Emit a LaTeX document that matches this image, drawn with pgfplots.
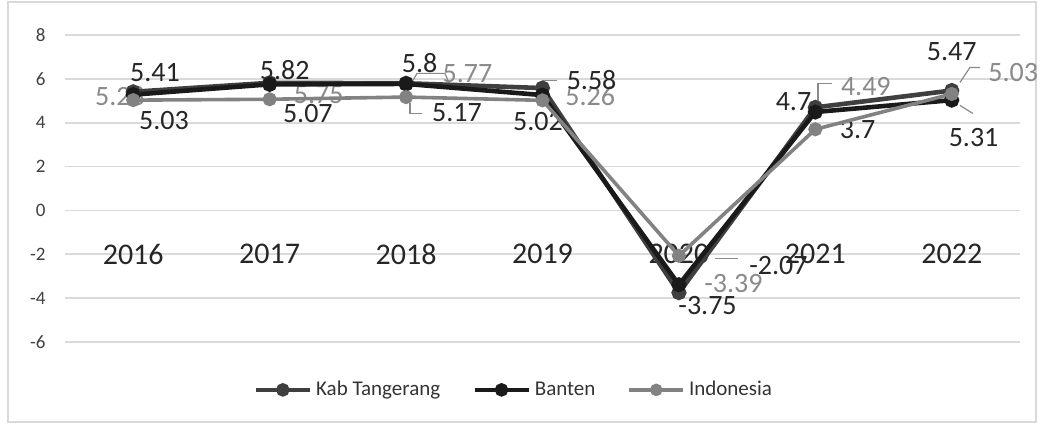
\documentclass[border=0pt]{standalone}
\usepackage{fontspec}
\setmainfont{Carlito}
\usepackage{pgfplots}
\pgfplotsset{compat=1.18}
\definecolor{kab}{HTML}{3F3F3F}
\definecolor{ban}{HTML}{1A1A1A}
\definecolor{ind}{HTML}{828282}
\definecolor{gridc}{HTML}{DADADA}
\definecolor{lblk}{HTML}{262626}
\definecolor{lgry}{HTML}{8A8A8A}
\begin{document}
\begin{tikzpicture}[x=1pt,y=1pt]
\path[use as bounding box] (-32.5,-42) rectangle (489,171);
\draw[gray!30, line width=0.8pt] (-28.5,-40) rectangle (485.5,170);
\begin{axis}[
  at={(0,0)}, anchor=south west,
  scale only axis, width=477.5pt, height=153.5pt,
  xmin=-0.5, xmax=6.5, ymin=-6, ymax=8,
  ytick={-6,-4,...,8},
  xtick={0,...,6},
  xticklabels={2016,2017,2018,2019,2020,2021,2022},
  axis line style={draw=none},
  major tick length=0pt,
  ymajorgrids, grid style={gridc, line width=0.9pt},
  /pgf/number format/assume math mode=true,
  yticklabel style={font=\fontsize{9.5}{11}\selectfont, text=black!75, anchor=east, inner sep=0pt, xshift=-9.5pt},
  xticklabel style={font=\fontsize{15}{18}\selectfont, text=lblk, anchor=center, inner sep=0pt, yshift=43.9pt},
  legend style={at={(0.471,-0.156)}, anchor=center, draw=none, fill=none,
     font=\fontsize{10.5}{12}\selectfont, text=black!80,
     /tikz/every even column/.append style={column sep=14pt}},
  legend columns=3,
  legend image code/.code={\draw[mark repeat=2,mark phase=2,#1,mark size=2.2pt] plot coordinates {(0pt,0pt)(13.5pt,0pt)(27pt,0pt)};},
  clip=false,
]
% data labels
\begin{scope}[every node/.style={font=\fontsize{14}{16}\selectfont, inner sep=0pt}]
\node[text=lgry] at (axis cs:-0.097,5.20) {5.28};
\node[text=lgry] at (axis cs:1.36,5.29) {5.75};
\node[text=lgry] at (axis cs:2.45,6.25) {5.77};
\node[text=lgry] at (axis cs:3.35,5.20) {5.26};
\node[text=lgry] at (axis cs:4.40,-3.33) {-3.39};
\node[text=lgry] at (axis cs:5.37,5.65) {4.49};
\node[text=lgry] at (axis cs:6.45,6.29) {5.03};
\node[text=lblk] at (axis cs:0.16,6.29) {5.41};
\node[text=lblk] at (axis cs:1.11,6.38) {5.82};
\node[text=lblk] at (axis cs:2.10,6.70) {5.8};
\node[text=lblk] at (axis cs:3.36,5.93) {5.58};
\node[text=lblk] at (axis cs:4.21,-4.33) {-3.75};
\node[text=lblk] at (axis cs:4.84,4.97) {4.7};
\node[text=lblk] at (axis cs:6.00,7.25) {5.47};
\node[text=lblk] at (axis cs:0.226,4.10) {5.03};
\node[text=lblk] at (axis cs:1.28,4.42) {5.07};
\node[text=lblk] at (axis cs:2.373,4.47) {5.17};
\node[text=lblk] at (axis cs:2.967,4.06) {5.02};
\node[text=lblk] at (axis cs:4.73,-2.51) {-2.07};
\node[text=lblk] at (axis cs:5.31,3.69) {3.7};
\node[text=lblk] at (axis cs:6.16,3.33) {5.31};
\end{scope}
% leader lines
\begin{scope}[lgry, line width=0.6pt]
\draw (axis cs:2.029,4.88) -- (axis cs:2.029,4.42) -- (axis cs:2.117,4.42);
\draw (axis cs:5.019,4.88) -- (axis cs:5.019,5.79) -- (axis cs:5.122,5.79);
\draw (axis cs:6.060,5.84) -- (axis cs:6.133,6.52) -- (axis cs:6.207,6.52);
\draw (axis cs:6.060,4.79) -- (axis cs:6.155,4.42);
\draw (axis cs:4.264,-2.19) -- (axis cs:4.433,-2.19);
\draw (axis cs:3.004,5.93) -- (axis cs:3.106,5.93);
\draw (axis cs:2.051,5.93) -- (axis cs:2.080,6.25) -- (axis cs:2.285,6.25) -- (axis cs:2.307,5.93);
\end{scope}
\addplot[kab, line width=2.3pt, mark=*, mark size=2.6pt, mark options={solid}] coordinates {
 (0,5.41) (1,5.82) (2,5.8) (3,5.58) (4,-3.75) (5,4.7) (6,5.47)};
\addlegendentry{Kab Tangerang}
\addplot[ban, line width=2.3pt, mark=*, mark size=2.6pt, mark options={solid}] coordinates {
 (0,5.28) (1,5.75) (2,5.77) (3,5.26) (4,-3.39) (5,4.49) (6,5.03)};
\addlegendentry{Banten}
\addplot[ind, line width=1.8pt, mark=*, mark size=2.6pt, mark options={solid}] coordinates {
 (0,5.03) (1,5.07) (2,5.17) (3,5.02) (4,-2.07) (5,3.7) (6,5.31)};
\addlegendentry{Indonesia}
\end{axis}
\end{tikzpicture}
\end{document}
